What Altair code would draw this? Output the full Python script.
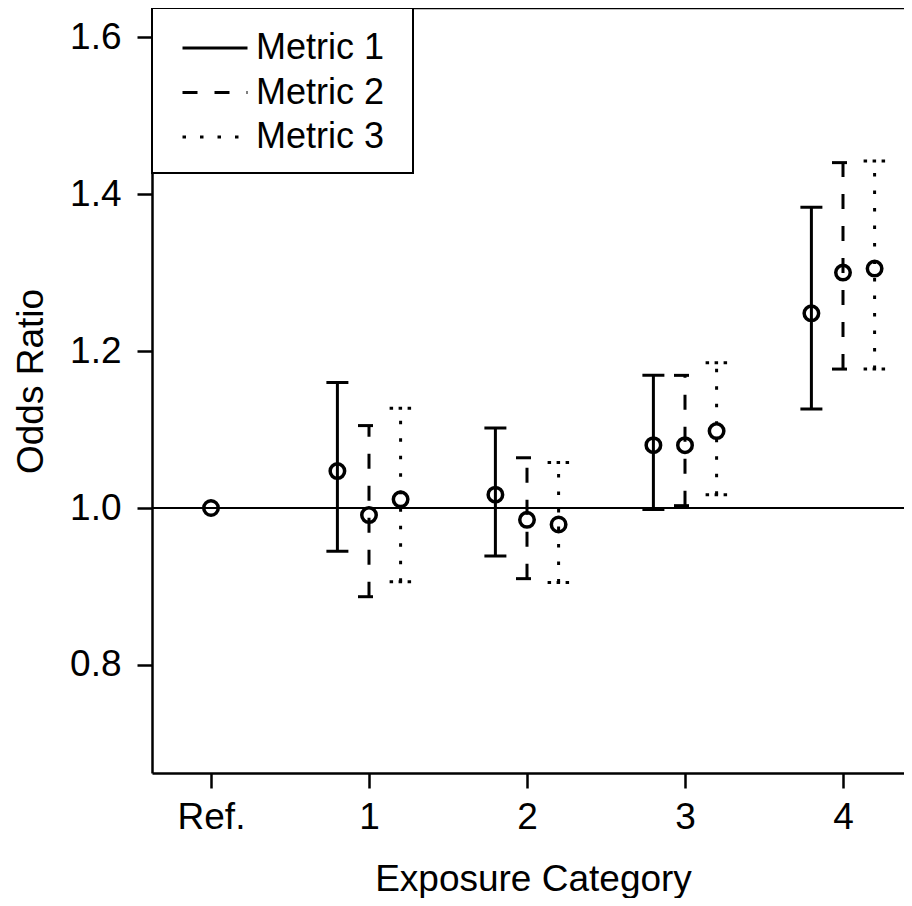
import altair as alt
import pandas as pd

# ---- data ----
categories = ["Ref.", "1", "2", "3", "4"]
metrics = ["Metric 1", "Metric 2", "Metric 3"]

ref_or = 1.0

or_m1 = [1.047, 1.017, 1.080, 1.248]
lo_m1 = [0.945, 0.939, 0.998, 1.126]
hi_m1 = [1.160, 1.102, 1.169, 1.383]

or_m2 = [0.991, 0.985, 1.080, 1.300]
lo_m2 = [0.887, 0.910, 1.003, 1.177]
hi_m2 = [1.105, 1.064, 1.169, 1.440]

or_m3 = [1.011, 0.979, 1.098, 1.305]
lo_m3 = [0.906, 0.905, 1.017, 1.177]
hi_m3 = [1.127, 1.058, 1.185, 1.442]

y_ticks = [0.8, 1.0, 1.2, 1.4, 1.6]

# ---- build table ----
series = {
    "Metric 1": (or_m1, lo_m1, hi_m1),
    "Metric 2": (or_m2, lo_m2, hi_m2),
    "Metric 3": (or_m3, lo_m3, hi_m3),
}
rows = []
for m_idx, m in enumerate(metrics):
    ors, los, his = series[m]
    for k in range(len(ors)):
        rows.append({"cat": k + 1, "metric": m, "m_idx": m_idx,
                     "or": ors[k], "lo": los[k], "hi": his[k]})
df = pd.DataFrame(rows)
ref_df = pd.DataFrame({"cat": [0], "or": [ref_or]})

W, H = 752, 765
FONT = "Liberation Sans"

xscale = alt.Scale(domain=[-0.3734, 4.3861], nice=False, zero=False)
yscale = alt.Scale(domain=[0.6624, 1.637], nice=False, zero=False)

label_expr = "[" + ",".join("'%s'" % c for c in categories) + "][datum.value]"

x_axis = alt.Axis(values=list(range(len(categories))), labelExpr=label_expr,
                  title="Exposure Category", titleX=381, titleY=117,
                  titleBaseline="alphabetic", titleAlign="center",
                  labelBaseline="alphabetic", labelPadding=40)
y_axis = alt.Axis(values=y_ticks, format=".1f", title="Odds Ratio",
                  titleAngle=270, titleX=-110, titleY=373,
                  titleBaseline="alphabetic", titleAlign="center",
                  labelPadding=16)

base = alt.Chart(df).transform_calculate(
    xpos="datum.cat + (datum.m_idx - 1) * 0.2"
)

dash_scale = alt.Scale(domain=metrics, range=[[1, 0], [15, 17], [3.5, 14]])

bars = base.mark_rule(strokeWidth=3, color="black").encode(
    x=alt.X("xpos:Q", scale=xscale, axis=x_axis),
    y=alt.Y("lo:Q", scale=yscale, axis=y_axis),
    y2="hi:Q",
    strokeDash=alt.StrokeDash(
        "metric:N", scale=dash_scale,
        legend=alt.Legend(title=None, orient="none", legendX=29, legendY=22.5,
                          symbolType="stroke", symbolSize=4225,
                          symbolStrokeWidth=3, symbolStrokeColor="black",
                          labelFontSize=36, labelFont=FONT, labelColor="black",
                          labelOffset=7, rowPadding=7.5, clipHeight=35,
                          padding=0, labelLimit=400)),
)

cap_dash = {"Metric 1": [1, 0], "Metric 2": [15, 17], "Metric 3": [3.5, 5.5]}
caps = []
for m in metrics:
    caps.append(
        base.transform_filter(alt.datum.metric == m)
        .transform_fold(["lo", "hi"], as_=["end", "val"])
        .mark_point(shape="stroke", size=484, strokeWidth=3, color="black",
                    strokeDash=cap_dash[m], opacity=1)
        .encode(x=alt.X("xpos:Q", scale=xscale),
                y=alt.Y("val:Q", scale=yscale))
    )

points = base.mark_point(shape="circle", filled=False, size=210,
                         strokeWidth=3.5, color="black", opacity=1).encode(
    x=alt.X("xpos:Q", scale=xscale),
    y=alt.Y("or:Q", scale=yscale),
)

ref_point = alt.Chart(ref_df).mark_point(shape="circle", filled=False, size=210,
                                         strokeWidth=3.5, color="black",
                                         opacity=1).encode(
    x=alt.X("cat:Q", scale=xscale),
    y=alt.Y("or:Q", scale=yscale),
)

ref_line = alt.Chart(ref_df).mark_rule(strokeWidth=2, color="black").encode(
    y=alt.Y("or:Q", scale=yscale)
)

one = alt.Data(values=[{}])
top_border = alt.Chart(one).mark_rule(strokeWidth=2.5, color="black").encode(
    x=alt.value(0), x2=alt.value(W), y=alt.value(0)
)
legend_box = alt.Chart(one).mark_rect(fill="white", stroke="black",
                                      strokeWidth=2).encode(
    x=alt.value(0), x2=alt.value(261), y=alt.value(0), y2=alt.value(165)
)

chart = alt.layer(
    ref_line, bars, *caps, points, ref_point, top_border, legend_box
).properties(
    width=W, height=H,
    autosize=alt.AutoSizeParams(type="none"),
    padding={"left": 144, "top": 0, "right": 0, "bottom": 125},
    background="white",
).configure_view(stroke=None).configure_axis(
    grid=False, domainColor="black", domainWidth=2.5, tickColor="black",
    tickWidth=2.5, tickSize=15, labelColor="black", titleColor="black",
    labelFont=FONT, titleFont=FONT, labelFontSize=37, titleFontSize=37,
    titleFontWeight="normal",
)

chart.save("out.html", embed_options={"renderer": "svg", "actions": False})
